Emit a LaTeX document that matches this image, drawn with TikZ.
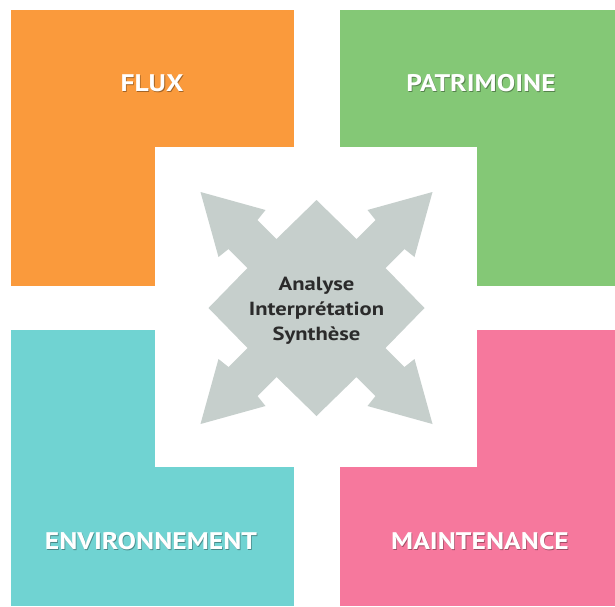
\documentclass[tikz,border=0pt]{standalone}
\usepackage{fontspec}
\setmainfont{PT Sans}
\newfontfamily\lblfont[FakeStretch=1.15]{PT Sans}
\newfontfamily\ctrfont[FakeStretch=1.19]{PT Sans}
\definecolor{cOrange}{HTML}{FA9A3C}
\definecolor{cGreen}{HTML}{84C876}
\definecolor{cCyan}{HTML}{70D3D2}
\definecolor{cPink}{HTML}{F6789D}
\definecolor{cGray}{HTML}{C6CFCC}
\definecolor{cText}{HTML}{2B2B2B}
\tikzset{
  lbl/.style={text=white, font=\lblfont\bfseries\fontsize{24}{26}\selectfont, inner sep=0pt},
  lblshadow/.style={text=black, opacity=0.35, font=\lblfont\bfseries\fontsize{24}{26}\selectfont, inner sep=0pt},
  ctext/.style={text=cText, font=\ctrfont\bfseries\fontsize{19}{25}\selectfont, align=center, inner sep=0pt},
}
\begin{document}
\begin{tikzpicture}[x=1pt,y=-1pt]
\useasboundingbox (0,0) rectangle (615,606);
\fill[white] (0,0) rectangle (615,606);
% quadrants
\fill[cOrange] (11,10) rectangle (294,286);
\fill[cGreen] (340,10) rectangle (615,286);
\fill[cCyan] (11,330) rectangle (294,606);
\fill[cPink] (340,330) rectangle (615,606);
% centre white square
\fill[white] (155,147) rectangle (477,467);
% star of arrows
\begin{scope}[shift={(316.5,308)}]
\fill[cGray] (0,-108)
  -- (-40,-69) -- (-59,-88) -- (-51,-98) -- (-116,-116) -- (-98,-51) -- (-88,-59) -- (-69,-40)
  -- (-108,0)
  -- (-69,40) -- (-88,59) -- (-98,51) -- (-116,116) -- (-51,98) -- (-59,88) -- (-40,69)
  -- (0,108)
  -- (40,69) -- (59,88) -- (51,98) -- (116,116) -- (98,51) -- (88,59) -- (69,40)
  -- (108,0)
  -- (69,-40) -- (88,-59) -- (98,-51) -- (116,-116) -- (51,-98) -- (59,-88) -- (40,-69)
  -- cycle;
\end{scope}
\node[ctext] (centre) at (316.5,311) {Analyse\\Interprétation\\Synthèse};
% labels with light shadow
\node[lblshadow] at (152.8,84.3) {FLUX};
\node[lbl] (flux) at (152,83.5) {FLUX};
\node[lblshadow] at (481.8,84.3) {PATRIMOINE};
\node[lbl] (patrimoine) at (481,83.5) {PATRIMOINE};
\node[lblshadow] at (151.8,541.8) {ENVIRONNEMENT};
\node[lbl] (environnement) at (151,541) {ENVIRONNEMENT};
\node[lblshadow] at (480.8,541.8) {MAINTENANCE};
\node[lbl] (maintenance) at (480,541) {MAINTENANCE};
\end{tikzpicture}
\end{document}
